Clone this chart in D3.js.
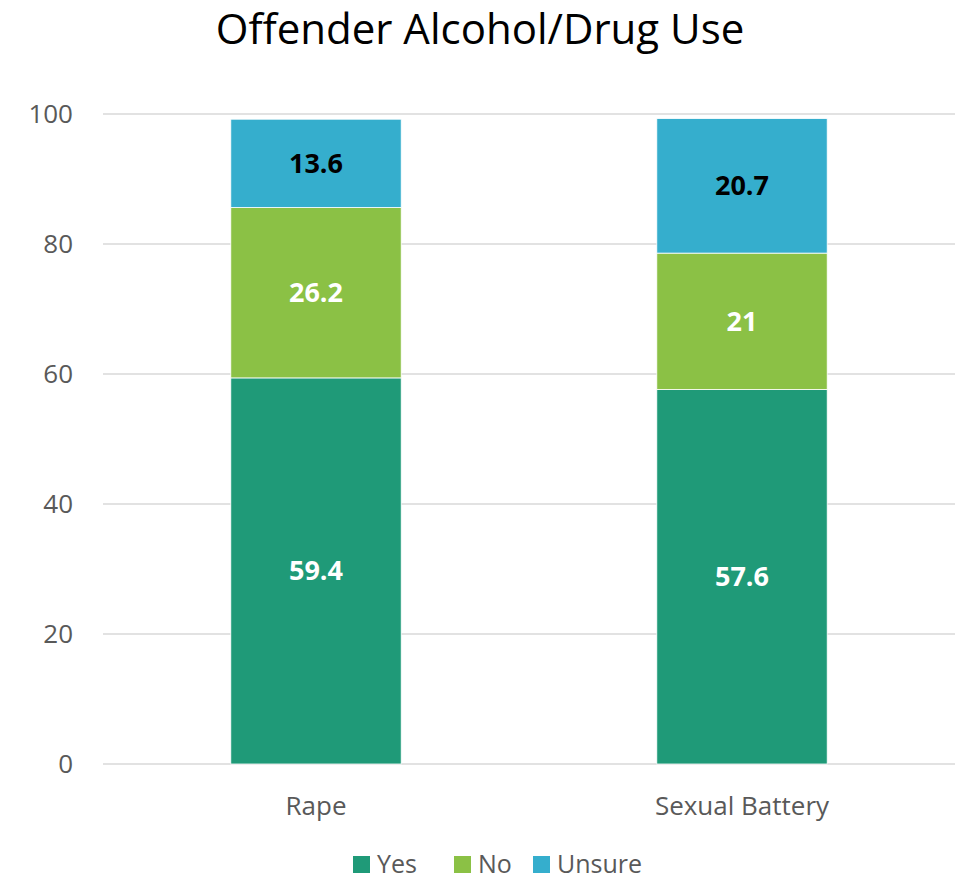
<!DOCTYPE html>
<html>
<head>
<meta charset="utf-8">
<script src="https://cdn.jsdelivr.net/npm/d3@7"></script>
<style>
  body { margin: 0; background: #fff; }
  text { font-family: "Open Sans", "Noto Sans", sans-serif; }
</style>
</head>
<body>
<svg width="955" height="882"></svg>
<script>
var categories = ["Rape", "Sexual Battery"];
var seriesNames = ["Yes", "No", "Unsure"];
var yesValues = [59.4, 57.6];
var noValues = [26.2, 21];
var unsureValues = [13.6, 20.7];
var yTicks = [0, 20, 40, 60, 80, 100];

var colors = { Yes: "#1f9a78", No: "#8bc145", Unsure: "#35aecd" };
var labelColors = { Yes: "#ffffff", No: "#ffffff", Unsure: "#000000" };

var rows = categories.map(function(c, i) {
  return { cat: c, Yes: yesValues[i], No: noValues[i], Unsure: unsureValues[i] };
});

var svg = d3.select("svg"),
  margin = { top: 114, right: 0, bottom: 118, left: 103 },
  width = +svg.attr("width") - margin.left - margin.right,
  height = +svg.attr("height") - margin.top - margin.bottom;

var x = d3.scaleBand().domain(categories).range([0, width]).paddingInner(0.6).paddingOuter(0.3);
var y = d3.scaleLinear().domain([0, 100]).range([height, 0]);

svg.append("text")
  .attr("x", 480)
  .attr("y", 44)
  .attr("text-anchor", "middle")
  .attr("font-size", 42)
  .attr("fill", "#000")
  .text("Offender Alcohol/Drug Use");

var g = svg.append("g").attr("transform", "translate(" + margin.left + "," + margin.top + ")");

// gridlines
g.selectAll(".grid")
  .data(yTicks)
  .enter()
  .append("line")
  .attr("x1", 0)
  .attr("x2", width)
  .attr("y1", function(d) { return y(d); })
  .attr("y2", function(d) { return y(d); })
  .attr("stroke", "#d9d9d9")
  .attr("stroke-width", 1.5);

// y tick labels
g.selectAll(".ytick")
  .data(yTicks)
  .enter()
  .append("text")
  .attr("x", -30)
  .attr("y", function(d) { return y(d); })
  .attr("dy", "0.35em")
  .attr("text-anchor", "end")
  .attr("font-size", 26)
  .attr("fill", "#595959")
  .text(function(d) { return d; });

var stack = d3.stack().keys(seriesNames);
var layers = stack(rows);

var layer = g.selectAll(".layer")
  .data(layers)
  .enter()
  .append("g")
  .attr("fill", function(d) { return colors[d.key]; });

layer.selectAll("rect")
  .data(function(d) { return d; })
  .enter()
  .append("rect")
  .attr("x", function(d) { return x(d.data.cat); })
  .attr("width", x.bandwidth())
  .attr("y", function(d) { return y(d[1]); })
  .attr("height", function(d) { return y(d[0]) - y(d[1]); })
  .attr("stroke", "#ffffff")
  .attr("stroke-width", 0.8);

layers.forEach(function(l) {
  g.selectAll(".lbl-" + l.key)
    .data(l)
    .enter()
    .append("text")
    .attr("x", function(d) { return x(d.data.cat) + x.bandwidth() / 2; })
    .attr("y", function(d) { return (y(d[0]) + y(d[1])) / 2; })
    .attr("dy", "0.35em")
    .attr("text-anchor", "middle")
    .attr("font-size", 27)
    .attr("font-weight", "bold")
    .attr("fill", labelColors[l.key])
    .text(function(d) { return d.data[l.key]; });
});

// x axis category labels
g.selectAll(".xlabel")
  .data(categories)
  .enter()
  .append("text")
  .attr("x", function(d) { return x(d) + x.bandwidth() / 2; })
  .attr("y", height + 42)
  .attr("dy", "0.35em")
  .attr("text-anchor", "middle")
  .attr("font-size", 26)
  .attr("fill", "#595959")
  .text(function(d) { return d; });

// legend
var legendX = [353, 454, 533];
var legend = svg.append("g");
seriesNames.forEach(function(s, i) {
  legend.append("rect")
    .attr("x", legendX[i])
    .attr("y", 856)
    .attr("width", 17)
    .attr("height", 17)
    .attr("fill", colors[s]);
  legend.append("text")
    .attr("x", legendX[i] + 24)
    .attr("y", 864)
    .attr("dy", "0.35em")
    .attr("font-size", 25)
    .attr("fill", "#595959")
    .text(s);
});
</script>
</body>
</html>
